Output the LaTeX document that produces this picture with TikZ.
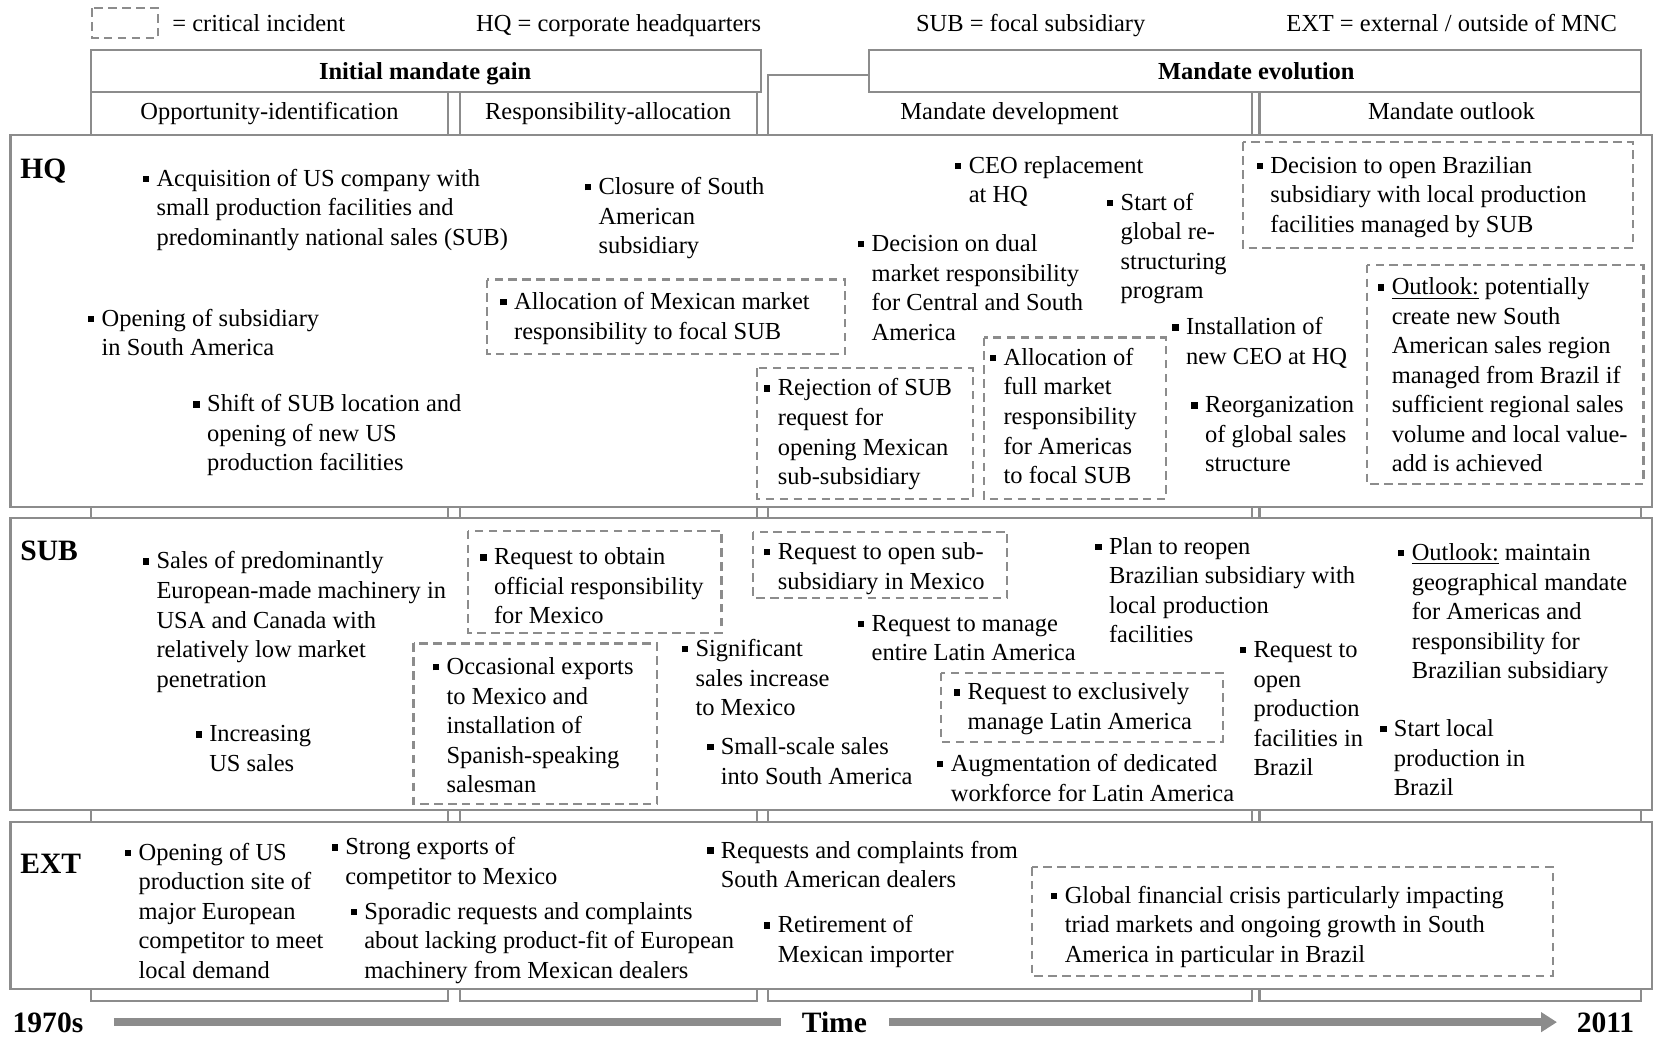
\documentclass[tikz,border=0pt]{standalone}
\usepackage{fontspec}
\setmainfont{Liberation Serif}
\usetikzlibrary{arrows.meta}
\definecolor{frame}{HTML}{8C8C8C}
% small square bullet hanging to the left of the first line
\newcommand{\bul}{\strut\llap{\rule[2pt]{3pt}{3pt}\hspace{3.5pt}}}
\tikzset{
  itm/.style={anchor=north west, inner sep=0pt, align=left, yshift=6.3pt,
              font=\fontsize{11.6}{14}\selectfont},
  lbl/.style={anchor=west, inner sep=0pt, text height=10.6pt, text depth=3pt,
              font=\fontsize{11.6}{14}\selectfont},
  ctr/.style={inner sep=0pt, text height=10.6pt, text depth=3pt,
              font=\fontsize{11.6}{14}\selectfont},
  hdr/.style={inner sep=0pt, text height=10.6pt, text depth=3pt,
              font=\fontsize{11.6}{14}\selectfont\bfseries},
  rowlbl/.style={anchor=west, inner sep=0pt, text height=12.2pt, text depth=3pt,
              font=\fontsize{14}{16}\selectfont\bfseries},
  colbox/.style={draw=frame, line width=1pt},
  rowbox/.style={draw=frame, fill=white, line width=1pt},
  crit/.style={draw=frame, line width=1pt, dash pattern=on 4pt off 2.6pt},
  timebar/.style={draw=frame, line width=3.5pt},
}
\begin{document}
\begin{tikzpicture}[x=0.5pt, y=-0.5pt]
\useasboundingbox (0,0) rectangle (1568,984);

% legend
\draw[crit] (87,8) rectangle (150,36);
\node[lbl] (lg1) at (163,22) {= critical incident};
\node[lbl] (lg2) at (451,22) {HQ = corporate headquarters};
\node[lbl] (lg3) at (868,22) {SUB = focal subsidiary};
\node[lbl] (lg4) at (1219,22) {EXT = external / outside of MNC};

% phase columns running behind the three rows
\draw[colbox] (86,87) rectangle (424.5,949);
\draw[colbox] (436,87) rectangle (718,949);
\draw[colbox] (728,71) rectangle (1187,949);
\draw[colbox] (1194,87) rectangle (1556,949);

% phase headers
\draw[rowbox] (86,47) rectangle (721,87);
\draw[rowbox] (824,47) rectangle (1556,87);
\node[hdr] (ph1) at (403,68) {Initial mandate gain};
\node[hdr] (ph2) at (1191,68) {Mandate evolution};
\node[ctr] (sp1) at (255.5,106) {Opportunity-identification};
\node[ctr] (sp2) at (576.5,106) {Responsibility-allocation};
\node[ctr] (sp3) at (957,106) {Mandate development};
\node[ctr] (sp4) at (1376,106) {Mandate outlook};

% rows
\draw[rowbox] (10,128) rectangle (1566,481);
\draw[rowbox] (10,491) rectangle (1566,768);
\draw[rowbox] (10,779) rectangle (1566,937.5);
\node[rowlbl] (rHQ) at (19,160) {HQ};
\node[rowlbl] (rSUB) at (19,522) {SUB};
\node[rowlbl] (rEXT) at (19,819) {EXT};

% ---------- HQ ----------
\node[itm] (h1) at (148,169) {\bul Acquisition of US company with\\small production facilities and\\predominantly national sales (SUB)};
\node[itm] (h2) at (96,302) {\bul Opening of subsidiary\\in South America};
\node[itm] (h3) at (196,383) {\bul Shift of SUB location and\\opening of new US\\production facilities};
\node[itm] (h4) at (567,177) {\bul Closure of South\\American\\subsidiary};
\draw[crit] (462,265) rectangle (801,336);
\node[itm] (h5) at (487,286) {\bul Allocation of Mexican market\\responsibility to focal SUB};
\node[itm] (h6) at (826,231) {\bul Decision on dual\\market responsibility\\for Central and South\\America};
\node[itm] (h7) at (918,157) {\bul CEO replacement\\at HQ};
\node[itm] (h8) at (1062,192) {\bul Start of\\global re-\\structuring\\program};
\draw[crit] (1178,135) rectangle (1548,235);
\node[itm] (h9) at (1204,157) {\bul Decision to open Brazilian\\subsidiary with local production\\facilities managed by SUB};
\node[itm] (h10) at (1124,310) {\bul Installation of\\new CEO at HQ};
\node[itm] (h11) at (1142,384) {\bul Reorganization\\of global sales\\structure};
\draw[crit] (1296,251) rectangle (1558,459);
\node[itm] (h12) at (1319,272) {\bul \underline{Outlook:} potentially\\create new South\\American sales region\\managed from Brazil if\\sufficient regional sales\\volume and local value-\\add is achieved};
\draw[crit] (718,349) rectangle (922,473);
\node[itm] (h13) at (737,368) {\bul Rejection of SUB\\request for\\opening Mexican\\sub-subsidiary};
\draw[crit] (933,320) rectangle (1105,473);
\node[itm] (h14) at (951,339) {\bul Allocation of\\full market\\responsibility\\for Americas\\to focal SUB};

% ---------- SUB ----------
\node[itm] (s1) at (148,532) {\bul Sales of predominantly\\European-made machinery in\\USA and Canada with\\relatively low market\\penetration};
\node[itm] (s2) at (198,696) {\bul Increasing\\US sales};
\draw[crit] (444,503) rectangle (684,600);
\node[itm] (s3) at (468,528) {\bul Request to obtain\\official responsibility\\for Mexico};
\draw[crit] (392,610) rectangle (623,762);
\node[itm] (s4) at (423,632) {\bul Occasional exports\\to Mexico and\\installation of\\Spanish-speaking\\salesman};
\node[itm] (s5) at (659,615) {\bul Significant\\sales increase\\to Mexico};
\node[itm] (s6) at (683,708) {\bul Small-scale sales\\into South America};
\draw[crit] (714,504) rectangle (955,567);
\node[itm] (s7) at (737,523) {\bul Request to open sub-\\subsidiary in Mexico};
\node[itm] (s8) at (826,591) {\bul Request to manage\\entire Latin America};
\node[itm] (s9) at (1051,518) {\bul Plan to reopen\\Brazilian subsidiary with\\local production\\facilities};
\draw[crit] (892,638) rectangle (1159,703);
\node[itm] (s10) at (917,656) {\bul Request to exclusively\\manage Latin America};
\node[itm] (s11) at (901,724) {\bul Augmentation of dedicated\\workforce for Latin America};
\node[itm] (s12) at (1188,616) {\bul Request to\\open\\production\\facilities in\\Brazil};
\node[itm] (s13) at (1338,524) {\bul \underline{Outlook:} maintain\\geographical mandate\\for Americas and\\responsibility for\\Brazilian subsidiary};
\node[itm] (s14) at (1321,691) {\bul Start local\\production in\\Brazil};

% ---------- EXT ----------
\node[itm] (e1) at (131,808) {\bul Opening of US\\production site of\\major European\\competitor to meet\\local demand};
\node[itm] (e2) at (327,803) {\bul Strong exports of\\competitor to Mexico};
\node[itm] (e3) at (345,864) {\bul Sporadic requests and complaints\\about lacking product-fit of European\\machinery from Mexican dealers};
\node[itm] (e4) at (683,806) {\bul Requests and complaints from\\South American dealers};
\node[itm] (e5) at (737,877) {\bul Retirement of\\Mexican importer};
\draw[crit] (978,822) rectangle (1472,925);
\node[itm] (e6) at (1009,849) {\bul Global financial crisis particularly impacting\\triad markets and ongoing growth in South\\America in particular in Brazil};

% time axis
\node[rowlbl, anchor=center] (t0) at (45.5,970) {1970s};
\node[rowlbl, anchor=center] (tm) at (791,970) {Time};
\node[rowlbl, anchor=center] (t1) at (1522,970) {2011};
\coordinate (a0) at (108,969);
\coordinate (a1) at (740,969);
\coordinate (b0) at (843,969);
\coordinate (b1) at (1476,969);
\draw[timebar] (a0) -- (a1);
\draw[timebar, -{Triangle[length=7.5pt, width=9pt]}] (b0) -- (b1);
\end{tikzpicture}
\end{document}
